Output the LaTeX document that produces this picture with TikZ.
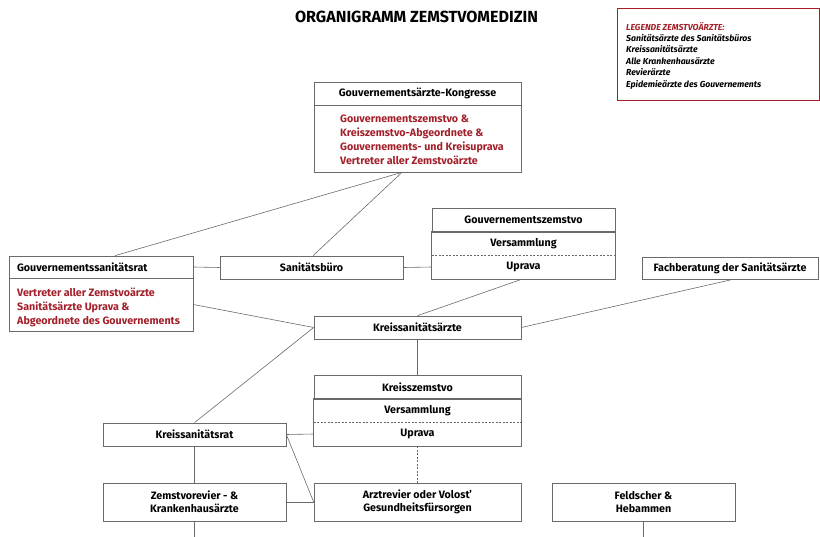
\documentclass[tikz,border=0pt]{standalone}
\usepackage{fontspec}
\setmainfont{Fira Sans}
\usetikzlibrary{calc}
\definecolor{orgred}{HTML}{A3202A}
\definecolor{orgline}{HTML}{6A6A6A}
\tikzset{
  boxline/.style={draw=orgline, line width=0.7pt},
  orgbox/.style={boxline, fill=white, inner sep=0pt, font=\fontsize{10.7}{12.8}\selectfont\bfseries, align=center},
  plain/.style={inner sep=0pt, font=\fontsize{10.7}{12.8}\selectfont\bfseries, align=center},
  redtext/.style={inner sep=0pt, font=\fontsize{10.7}{14}\selectfont\bfseries, text=orgred, align=left, anchor=west},
  conn/.style={draw=orgline, line width=0.6pt},
}
\begin{document}
\begin{tikzpicture}[x=1pt,y=-1pt]
\useasboundingbox (0,0) rectangle (820,537);
% title
\node[inner sep=0pt, font=\fontsize{16.1}{18}\selectfont\bfseries] (title) at (416.5,16.5) {ORGANIGRAMM ZEMSTVOMEDIZIN};
% legend
\draw[draw=orgred, line width=0.8pt] (617,8) rectangle (819,100);
\node[inner sep=0pt, anchor=west, align=left, font=\fontsize{8.7}{11.4}\selectfont\bfseries\itshape] (legend) at (626,55.5)
  {\textcolor{orgred}{LEGENDE ZEMSTVOÄRZTE:}\\Sanitätsärzte des Sanitätsbüros\\Kreissanitätsärzte\\Alle Krankenhausärzte\\Revierärzte\\Epidemieärzte des Gouvernements};
% Kongresse
\node[orgbox, minimum width=207pt, minimum height=23pt] (kh) at (417.5,93.5) {Gouvernementsärzte-Kongresse};
\node[orgbox, minimum width=207pt, minimum height=67pt] (kb) at (417.5,138.5) {};
\node[redtext] (kbt) at (340,140) {Gouvernementszemstvo \&\\Kreiszemstvo-Abgeordnete \&\\Gouvernements- und Kreisuprava\\Vertreter aller Zemstvoärzte};
% Gouvernementszemstvo
\node[orgbox, minimum width=183pt, minimum height=24pt] (gzh) at (523.5,220) {Gouvernementszemstvo};
\node[plain, minimum width=183pt, minimum height=23pt] (gzv) at (523.5,243.5) {Versammlung};
\node[plain, minimum width=183pt, minimum height=24pt] (gzu) at (523.5,267) {Uprava};
\draw[boxline] (gzv.north west) rectangle (gzu.south east);
\draw[conn, dashed, dash pattern=on 2pt off 1.5pt] (gzv.south west) -- (gzv.south east);
% Sanitaetsbuero
\node[orgbox, minimum width=183pt, minimum height=23pt] (sb) at (311.5,267.5) {Sanitätsbüro};
% Gouvernementssanitaetsrat
\node[orgbox, minimum width=184pt, minimum height=22pt, text width=168pt, align=left] (gsrh) at (101,267) {Gouvernementssanitätsrat};
\node[orgbox, minimum width=184pt, minimum height=53pt] (gsrb) at (101,304.5) {};
\node[redtext] (gsrt) at (17,307) {Vertreter aller Zemstvoärzte\\Sanitätsärzte Uprava \&\\Abgeordnete des Gouvernements};
% Fachberatung
\node[orgbox, minimum width=176pt, minimum height=22pt] (fb) at (730,268) {Fachberatung der Sanitätsärzte};
% Kreissanitaetsaerzte
\node[orgbox, minimum width=207pt, minimum height=23pt] (ksa) at (417.5,327.5) {Kreissanitätsärzte};
% Kreiszemstvo
\node[orgbox, minimum width=207pt, minimum height=24pt] (kzh) at (417.5,387) {Kreisszemstvo};
\node[plain, minimum width=207pt, minimum height=23pt] (kzv) at (417.5,410.5) {Versammlung};
\node[plain, minimum width=207pt, minimum height=24pt] (kzu) at (417.5,434) {Uprava};
\draw[boxline] (kzv.north west) rectangle (kzu.south east);
\draw[conn, dashed, dash pattern=on 2pt off 1.5pt] (kzv.south west) -- (kzv.south east);
% Kreissanitaetsrat
\node[orgbox, minimum width=183pt, minimum height=23pt] (ksr) at (194.5,434.5) {Kreissanitätsrat};
% bottom row
\node[orgbox, minimum width=183pt, minimum height=38pt] (zr) at (194.5,502) {Zemstvorevier - \&\\Krankenhausärzte};
\node[orgbox, minimum width=207pt, minimum height=38pt] (ar) at (417.5,502) {Arztrevier oder Volost’\\Gesundheitsfürsorgen};
\node[orgbox, minimum width=183pt, minimum height=38pt] (fh) at (643.5,502) {Feldscher \&\\Hebammen};
\coordinate (kcon) at ([xshift=-15.5pt]kb.south);
\coordinate (zrend) at (zr.south |- 0,537);
\coordinate (fhend) at (fh.south |- 0,537);
% connectors
\draw[conn] ([xshift=14pt]gsrh.north) -- (kcon);
\draw[conn] ([xshift=1.5pt]sb.north) -- (kcon);
\draw[conn] (gsrh.east) -- (sb.west);
\draw[conn] (sb.east) -- (gzu.west);
\draw[conn] ([xshift=-1.5pt]gzu.south) -- (ksa.north);
\draw[conn] ([xshift=3pt]fb.south) -- (ksa.east);
\draw[conn] (gsrb.east) -- (ksa.west);
\draw[conn] (ksr.north) -- (ksa.west);
\draw[conn] (ksa.south) -- (kzh.north);
\draw[conn] (ksr.east) -- (kzu.west);
\draw[conn] (ksr.east) -- (ar.west);
\draw[conn] (ksr.south) -- (zr.north);
\draw[conn] (zr.east) -- (ar.west);
\draw[conn, dashed, dash pattern=on 2pt off 1.5pt] (kzu.south) -- (ar.north);
\draw[conn] (zr.south) -- (zrend);
\draw[conn] (fh.south) -- (fhend);
\end{tikzpicture}
\end{document}
